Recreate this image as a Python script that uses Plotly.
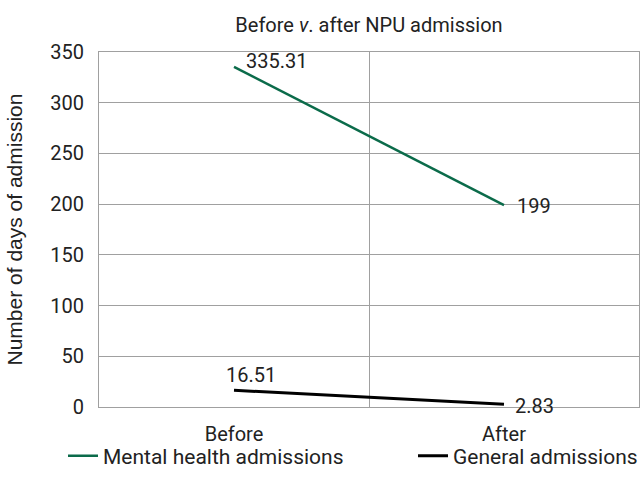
import plotly.graph_objects as go

categories = ["Before", "After"]
mental_health = [335.31, 199]
general = [16.51, 2.83]
mental_labels = ["335.31", "199"]
general_labels = ["16.51", "2.83"]
y_ticks = [0, 50, 100, 150, 200, 250, 300, 350]

font_main = "Roboto, Liberation Sans, Arial, sans-serif"
txt = "#222222"

fig = go.Figure()
fig.add_trace(go.Scatter(
    x=categories, y=mental_health, mode="lines",
    line=dict(color="#0b6b4a", width=2.5),
    name="Mental health admissions", legend="legend",
))
fig.add_trace(go.Scatter(
    x=categories, y=general, mode="lines",
    line=dict(color="#000000", width=3),
    name="General admissions", legend="legend2",
))

# data labels (offsets in pixels relative to each point)
mental_shifts = [(10, 6), (11, -1)]
general_shifts = [(-10, 15), (9, -2)]
for xs, ys, labels, shifts in [(categories, mental_health, mental_labels, mental_shifts),
                               (categories, general, general_labels, general_shifts)]:
    for xv, yv, lab, (dx, dy) in zip(xs, ys, labels, shifts):
        fig.add_annotation(x=xv, y=yv, text=lab, showarrow=False, xanchor="left", yanchor="middle",
                           xshift=dx, yshift=dy, font=dict(size=20, color=txt))

leg_common = dict(orientation="h", xanchor="left", y=-0.138, yanchor="middle",
                  font=dict(size=21, color=txt), bgcolor="rgba(0,0,0,0)")

fig.update_layout(
    width=643, height=495,
    margin=dict(l=99, r=4, t=52, b=88, autoexpand=False),
    paper_bgcolor="white", plot_bgcolor="white",
    font=dict(family=font_main, size=20, color=txt),
    title=dict(text="Before <i>v</i>. after NPU admission", xref="paper", x=0.5, xanchor="center",
               yref="container", y=1 - 25 / 495, yanchor="middle", font=dict(size=20, color=txt)),
    showlegend=True,
    legend=dict(x=(63 - 99) / 540, **leg_common),
    legend2=dict(x=(413 - 99) / 540, **leg_common),
)
fig.update_xaxes(
    type="category", tickson="boundaries", showgrid=True, gridcolor="#a0a0a0", gridwidth=1,
    showline=True, linecolor="#a0a0a0", mirror=True, ticks="",
    range=[-0.5, 1.5], tickfont=dict(size=20), automargin=False, ticklabelstandoff=9,
)
fig.update_yaxes(
    range=[0, 350], tickvals=y_ticks, showgrid=True, gridcolor="#a0a0a0", gridwidth=1,
    showline=True, linecolor="#a0a0a0", mirror=True, ticks="", zeroline=False,
    tickfont=dict(size=20), automargin=False, ticklabelstandoff=10,
    title=dict(text="Number of days of admission", standoff=21,
               font=dict(family="Liberation Sans, Arial, sans-serif", size=21, color=txt)),
)

fig.write_html("out.html", config={"displayModeBar": False},
               post_script="document.body.style.margin='0';document.body.style.overflow='hidden';")
